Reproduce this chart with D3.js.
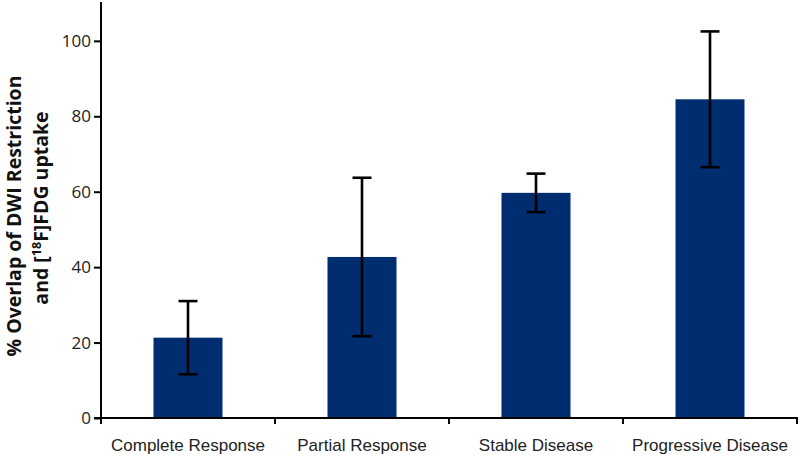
<!DOCTYPE html>
<html><head><meta charset="utf-8">
<script src="https://cdn.jsdelivr.net/npm/d3@7"></script>
<style>body{margin:0;background:#fff}svg{display:block}</style>
</head><body>
<svg id="c" width="800" height="457"></svg>
<script>
const categories = ["Complete Response","Partial Response","Stable Disease","Progressive Disease"];
const values = [21.3, 42.7, 59.7, 84.5];
const errors = [9.7, 21, 5.1, 18];
const yTicks = [0,20,40,60,80,100];

const svg = d3.select("#c");
const m = {left:101, right:797, top:2, bottom:418};
const xb = d3.scaleBand().domain(categories).range([m.left, m.right]);
const y = d3.scaleLinear().domain([0,110.3]).range([m.bottom, m.top]);

// bars
svg.selectAll("rect.bar").data(values).enter().append("rect")
  .attr("x",(d,i)=>xb(categories[i]) + xb.bandwidth()/2 - 34.5)
  .attr("width",69)
  .attr("y",d=>y(d)).attr("height",d=>y(0)-y(d))
  .attr("fill","#002d70");

// error bars
const eg = svg.append("g").attr("stroke","#000").attr("stroke-width",2.6);
values.forEach((v,i)=>{
  const cx = xb(categories[i]) + xb.bandwidth()/2;
  eg.append("line").attr("x1",cx).attr("x2",cx).attr("y1",y(v+errors[i])).attr("y2",y(v-errors[i]));
  eg.append("line").attr("x1",cx-9.5).attr("x2",cx+9.5).attr("y1",y(v+errors[i])).attr("y2",y(v+errors[i]));
  eg.append("line").attr("x1",cx-9.5).attr("x2",cx+9.5).attr("y1",y(v-errors[i])).attr("y2",y(v-errors[i]));
});

// y axis
const ya = svg.append("g").attr("transform",`translate(${m.left},0)`)
  .call(d3.axisLeft(y).tickValues(yTicks).tickSize(7).tickPadding(3));
ya.select(".domain").attr("stroke","#000").attr("stroke-width",2).attr("d",`M0,${m.top}V${m.bottom}`);
ya.selectAll(".tick line").attr("stroke","#000").attr("stroke-width",2);
ya.selectAll(".tick text").attr("font-family","'Open Sans', sans-serif").attr("font-size",17).attr("fill","#222");

// x axis
const xa = svg.append("g").attr("transform",`translate(0,${m.bottom})`);
xa.append("line").attr("x1",m.left-7).attr("x2",m.right+1).attr("y1",0).attr("y2",0).attr("stroke","#000").attr("stroke-width",2);
const bounds = categories.map(c=>xb(c)).concat([m.right]);
xa.selectAll("line.t").data(bounds).enter().append("line")
  .attr("x1",d=>d).attr("x2",d=>d).attr("y1",0).attr("y2",6).attr("stroke","#000").attr("stroke-width",2);
xa.selectAll("text").data(categories).enter().append("text")
  .attr("x",d=>xb(d)+xb.bandwidth()/2).attr("y",33)
  .attr("text-anchor","middle").attr("font-family","'Liberation Sans', Arial, sans-serif")
  .attr("font-size",17).attr("fill","#222").text(d=>d);

// y label
const yl = svg.append("text").attr("transform","rotate(-90)")
  .attr("font-family","'Open Sans', sans-serif").attr("font-weight","bold").attr("font-size",19.5).attr("fill","#111")
  .attr("text-anchor","middle");
yl.append("tspan").attr("x",-216).attr("y",21).text("% Overlap of DWI Restriction");
const l2 = yl.append("tspan").attr("x",-208).attr("y",48);
l2.text("and [");
yl.append("tspan").attr("dy",-7).attr("font-size",12.5).text("18");
yl.append("tspan").attr("dy",7).text("F]FDG uptake");
</script>
</body></html>
